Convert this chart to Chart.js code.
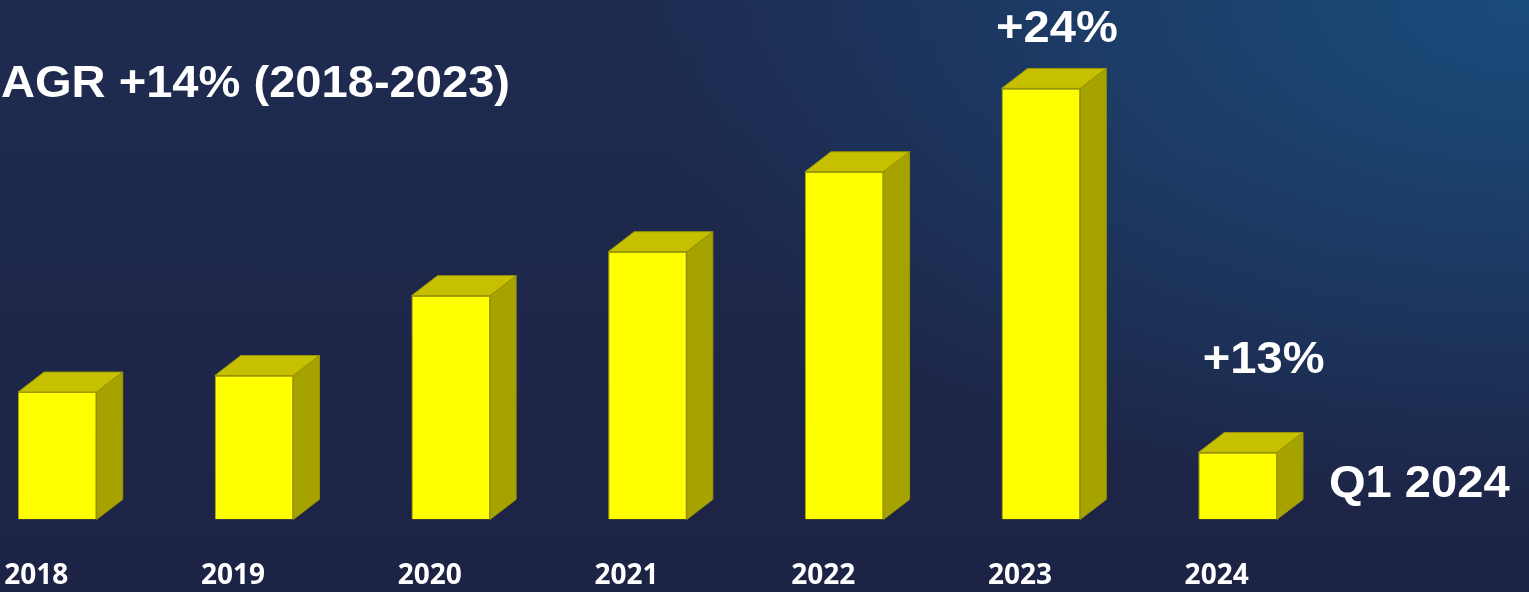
<!DOCTYPE html>
<html>
<head>
<meta charset="utf-8">
<script src="https://cdn.jsdelivr.net/npm/chart.js@4"></script>
<style>
    html, body { margin: 0; padding: 0; }
    body {
        width: 1529px;
        height: 592px;
        overflow: hidden;
        position: relative;
        background:
            radial-gradient(ellipse 900px 520px at 100% 0%, #1a4c7c 0%, rgba(29, 44, 80, 0) 100%),
            linear-gradient(#1e2b50, #1d2344);
    }
    #wrap { position: absolute; left: -41px; top: 0; width: 1570px; height: 633px; }
</style>
</head>
<body>
<div id="wrap"><canvas id="salesChart" width="1570" height="633"></canvas></div>
<script>
// years along the bottom and bar heights
const years = ['2018', '2019', '2020', '2021', '2022', '2023', '2024'];
const values = [12.75, 14.4, 22.4, 26.8, 34.8, 43.15, 6.7];
const growthLabels = ['', '', '', '', '', '+24%', '+13%'];
const cagrText = 'CAGR +14% (2018-2023)';
const periodText = 'Q1 2024';

const DEPTH_X = 26, DEPTH_Y = 20;
const TEXT_FONT = 'bold 44px "Liberation Sans", Arial, sans-serif';

// slightly widened bold text, like the slide headings
function wideText(ctx, text, x, y, align) {
    ctx.save();
    ctx.font = TEXT_FONT;
    ctx.fillStyle = '#ffffff';
    ctx.textAlign = align;
    ctx.textBaseline = 'alphabetic';
    ctx.translate(x, y);
    ctx.scale(1.07, 1);
    ctx.fillText(text, 0, 0);
    ctx.restore();
}

// top and side faces for each bar, plus the growth notes
const boxBars = {
    id: 'boxBars',
    afterDatasetsDraw(chart) {
        const ctx = chart.ctx;
        const bars = chart.getDatasetMeta(0).data;
        bars.forEach((bar) => {
            const { x, y, base, width } = bar.getProps(['x', 'y', 'base', 'width'], true);
            const l = x - width / 2, r = x + width / 2;
            ctx.save();
            ctx.lineWidth = 1;
            ctx.strokeStyle = '#9a9600';
            // top
            ctx.beginPath();
            ctx.moveTo(l, y);
            ctx.lineTo(l + DEPTH_X, y - DEPTH_Y);
            ctx.lineTo(r + DEPTH_X, y - DEPTH_Y);
            ctx.lineTo(r, y);
            ctx.closePath();
            ctx.fillStyle = '#c6c000';
            ctx.fill();
            ctx.stroke();
            // side
            ctx.beginPath();
            ctx.moveTo(r, y);
            ctx.lineTo(r + DEPTH_X, y - DEPTH_Y);
            ctx.lineTo(r + DEPTH_X, base - DEPTH_Y);
            ctx.lineTo(r, base);
            ctx.closePath();
            ctx.fillStyle = '#a6a200';
            ctx.fill();
            ctx.stroke();
            ctx.restore();
        });

        // growth notes above the last two bars
        const b23 = bars[5], b24 = bars[6];
        if (growthLabels[5]) wideText(ctx, growthLabels[5], b23.x + 16, b23.y - 46, 'center');
        if (growthLabels[6]) wideText(ctx, growthLabels[6], b24.x + 26, b24.y - 79, 'center');
        wideText(ctx, periodText, b24.x + b24.width / 2 + DEPTH_X + 26, (b24.y + b24.base) / 2 + 11, 'left');

        // CAGR heading, runs off the left edge
        wideText(ctx, cagrText, 551, 97, 'right');
    }
};

new Chart(document.getElementById('salesChart'), {
    type: 'bar',
    data: {
        labels: years,
        datasets: [{
            data: values,
            backgroundColor: '#ffff00',
            borderColor: '#a8a400',
            borderWidth: 1,
            categoryPercentage: 1,
            barPercentage: 0.4
        }]
    },
    options: {
        responsive: false,
        animation: false,
        layout: { padding: { left: 0, right: 193, top: 0, bottom: 0 } },
        plugins: { legend: { display: false }, tooltip: { enabled: false } },
        scales: {
            x: {
                grid: { display: false, drawTicks: false },
                border: { display: false },
                ticks: {
                    color: '#ffffff',
                    font: { family: '"Open Sans", sans-serif', weight: 'bold', size: 28 },
                    padding: 40,
                    labelOffset: -21,
                    maxRotation: 0
                }
            },
            y: { display: false, min: 0, max: 52 }
        }
    },
    plugins: [boxBars]
});
</script>
</body>
</html>
